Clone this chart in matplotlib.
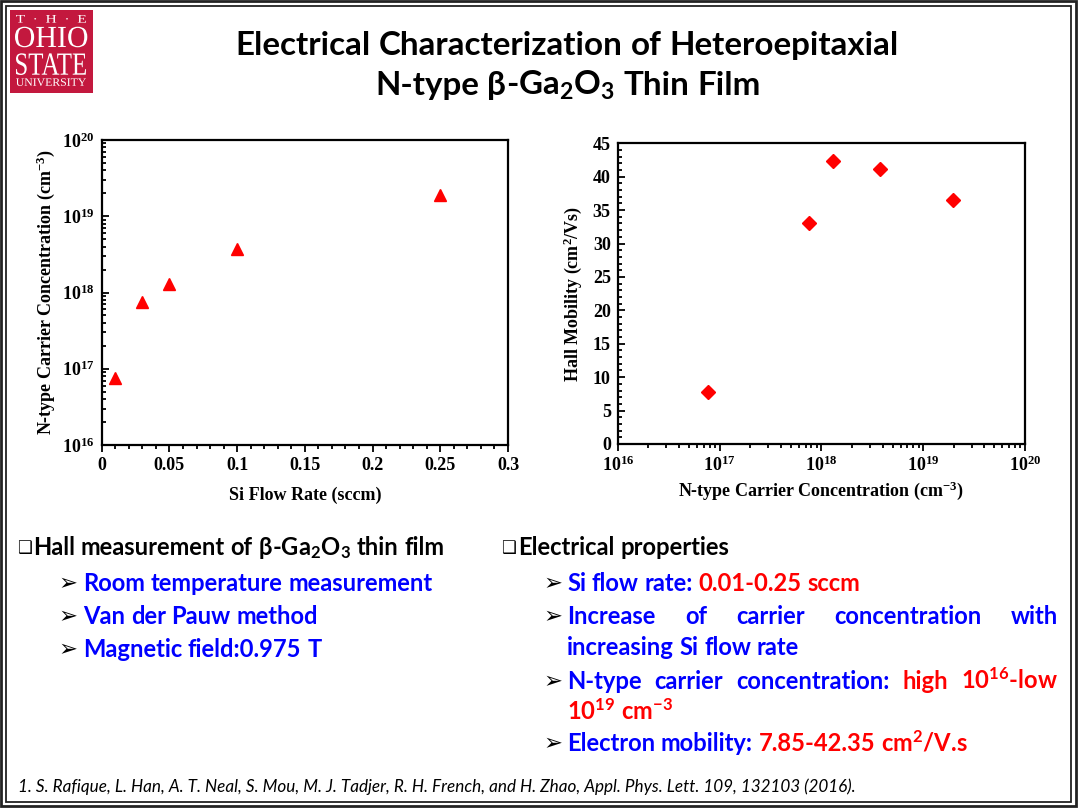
import os
import numpy as np
import matplotlib
matplotlib.use('Agg')
import matplotlib.pyplot as plt
import matplotlib.patheffects as pe
from matplotlib import font_manager
from matplotlib.patches import Rectangle, PathPatch
from matplotlib.textpath import TextPath
from matplotlib.font_manager import FontProperties
from matplotlib.transforms import Affine2D
from matplotlib.text import Text
from matplotlib.ticker import MultipleLocator, LogLocator, FuncFormatter, NullFormatter

# data
si_flow = [0.01, 0.03, 0.05, 0.1, 0.25]
carrier_conc = [7.5e16, 7.4e17, 1.29e18, 3.7e18, 1.88e19]
hall_conc = [7.65e16, 7.5e17, 1.31e18, 3.8e18, 1.95e19]
hall_mobility = [7.85, 33.0, 42.35, 41.1, 36.5]

flow_ticks = [0, 0.05, 0.1, 0.15, 0.2, 0.25, 0.3]
flow_labels = ['0', '0.05', '0.1', '0.15', '0.2', '0.25', '0.3']
mobility_ticks = [0, 5, 10, 15, 20, 25, 30, 35, 40, 45]

RED = '#FF0000'
BLUE = '#0000FF'
BLACK = '#000000'
SANS = ['Lato', 'DejaVu Sans']
SERIF = 'Liberation Serif'

plt.rcParams['font.family'] = SERIF
plt.rcParams['font.weight'] = 'bold'
plt.rcParams['mathtext.default'] = 'regular'

# is there a real bold Times-like face? if not, thicken the chart text with a stroke
bold_file = os.path.basename(font_manager.findfont(FontProperties(family=SERIF, weight='bold'))).lower()
fake_bold = 'bold' not in bold_file

fig = plt.figure(figsize=(10.8, 8.1), dpi=100)
ax0 = fig.add_axes([0, 0, 1, 1])
ax0.set_xlim(0, 1080)
ax0.set_ylim(810, 0)
ax0.axis('off')
R = fig.canvas.get_renderer()

# slide frame
ax0.add_patch(Rectangle((1.2, 1.2), 1074.5, 805, fill=False, lw=2.0, ec='#222222'))
ax0.add_patch(Rectangle((5.7, 5.7), 1065, 796.6, fill=False, lw=1.3, ec='#222222'))

# logo
ax0.add_patch(Rectangle((10, 10), 82.7, 83.3, fc='#C3183E', ec='none'))


def logo_text(s, x0, x1, ytop, ybot):
    tp = TextPath((0, 0), s, size=10, prop=FontProperties(family=SERIF, weight='normal'))
    b = tp.get_extents()
    tr = Affine2D().translate(-b.x0, -b.y0).scale((x1 - x0) / b.width, -(ybot - ytop) / b.height).translate(x0, ybot)
    ax0.add_patch(PathPatch(tr.transform_path(tp), fc='white', ec='none'))


logo_text('T  \u00b7  H  \u00b7  E', 16, 86, 15, 22.7)
logo_text('OHIO', 15, 87.3, 26.7, 47.3)
logo_text('STATE', 16, 86, 53.3, 75)
logo_text('UNIVERSITY', 16, 86, 78.3, 86)


def width_of(s, size, **kw):
    t = ax0.text(0, 0, s, fontsize=size, **kw)
    w = t.get_window_extent(R).width
    t.remove()
    return w


def split_words(pieces):
    words = [[]]
    for s, c in pieces:
        parts = s.split(' ')
        for i, p in enumerate(parts):
            if i > 0:
                words.append([])
            if p:
                words[-1].append((p, c))
    return [w for w in words if w]


def draw_line(x, y, pieces, size, right=None, center=None, **kw):
    kw.setdefault('family', SANS)
    kw.setdefault('fontweight', 'bold')
    arts = []
    for word in split_words(pieces):
        row = []
        for s, c in word:
            t = ax0.text(0, y, s, color=c, fontsize=size, va='baseline', **kw)
            row.append((t, t.get_window_extent(R).width))
        arts.append(row)
    wsum = sum(w for row in arts for _, w in row)
    gap = width_of('x x', size, **kw) - width_of('xx', size, **kw)
    if right is not None and len(arts) > 1:
        gap = (right - x - wsum) / (len(arts) - 1)
    if center is not None:
        x = center - (wsum + gap * (len(arts) - 1)) / 2
    cx = x
    for row in arts:
        for t, w in row:
            t.set_x(cx)
            cx += w
        cx += gap


# title
title_size = 20 * 663 / width_of('Electrical Characterization of Heteroepitaxial', 20,
                                 family=SANS, fontweight='bold')
draw_line(0, 55, [('Electrical Characterization of Heteroepitaxial', BLACK)], title_size, center=567)
draw_line(0, 95, [('N-type ', BLACK), ('\u03b2', BLACK), ('-Ga$_2$O$_3$ Thin Film', BLACK)],
          title_size, center=568)

# body text
body = 15 * 353 / width_of('Room temperature measurement', 15, family=SANS, fontweight='bold')


def box(x, y):
    ax0.text(x, y, '\u2751', fontsize=body * 0.7, family='DejaVu Sans', fontweight='bold',
             va='baseline', color=BLACK)


def arrow(x, y):
    ax0.text(x, y, '\u27a2', fontsize=body * 0.95, family='DejaVu Sans', fontweight='bold',
             va='baseline', color=BLACK)


box(17, 553)
draw_line(33, 555, [('Hall measurement of ', BLACK), ('\u03b2', BLACK), ('-Ga$_2$O$_3$ thin film', BLACK)], body)
for yy, txt in [(591, 'Room temperature measurement'), (624, 'Van der Pauw method'),
                (657, 'Magnetic field:0.975 T')]:
    arrow(58, yy - 1)
    draw_line(83, yy, [(txt, BLUE)], body)

box(501, 553)
draw_line(518, 555, [('Electrical properties', BLACK)], body)
arrow(543, 590)
draw_line(567, 591, [('Si flow rate: ', BLUE), ('0.01-0.25 sccm', RED)], body)
arrow(543, 623)
draw_line(567, 624, [('Increase of carrier concentration with', BLUE)], body, right=1058)
draw_line(567, 655, [('increasing Si flow rate', BLUE)], body)
arrow(543, 688)
draw_line(567, 689, [('N-type carrier concentration: ', BLUE), ('high 10$^{16}$-low', RED)], body, right=1058)
draw_line(567, 720, [('10$^{19}$ cm$^{-3}$', RED)], body)
arrow(543, 750)
draw_line(567, 751, [('Electron mobility: ', BLUE), ('7.85-42.35 cm$^2$/V.s', RED)], body)

# footnote
ref = ('1. S. Rafique, L. Han, A. T. Neal, S. Mou, M. J. Tadjer, R. H. French, and H. Zhao, '
       'Appl. Phys. Lett. 109, 132103 (2016).')
ref_size = 10 * 837 / width_of(ref, 10, family=SANS, fontweight='normal', style='italic')
ax0.text(18, 792, ref, fontsize=ref_size, family=SANS, fontweight='normal', style='italic',
         va='baseline', color=BLACK)


def style_chart(ax):
    for s in ax.spines.values():
        s.set_linewidth(1.6)
    ax.tick_params(which='both', top=False, right=False, width=1.3, labelsize=13, colors=BLACK)
    ax.tick_params(axis='x', which='both', direction='out')
    ax.tick_params(axis='y', which='both', direction='in', pad=5)
    ax.tick_params(which='major', length=5)
    ax.tick_params(which='minor', length=3)


decade = FuncFormatter(lambda v, p: '$10^{%d}$' % round(np.log10(v)))

# left chart: carrier concentration vs Si flow
axL = fig.add_axes([101.7 / 1080, 1 - 445 / 810, 406.3 / 1080, 305 / 810])
axL.plot(si_flow, carrier_conc, ls='none', marker='^', ms=9, color=RED, clip_on=False)
axL.set_yscale('log')
axL.set_ylim(1e16, 1e20)
axL.set_xlim(0, 0.3)
axL.set_xticks(flow_ticks)
axL.set_xticklabels(flow_labels)
axL.xaxis.set_minor_locator(MultipleLocator(0.01))
axL.yaxis.set_major_locator(LogLocator(base=10, numticks=10))
axL.yaxis.set_major_formatter(decade)
axL.yaxis.set_minor_locator(LogLocator(base=10, subs=np.arange(2, 10), numticks=20))
axL.yaxis.set_minor_formatter(NullFormatter())
style_chart(axL)
axL.set_xlabel('Si Flow Rate (sccm)', fontsize=13, fontweight='bold', labelpad=9)
axL.set_ylabel('N-type Carrier Concentration (cm$^{-3}$)', fontsize=13, fontweight='bold', labelpad=4)

# right chart: Hall mobility vs carrier concentration
axR = fig.add_axes([617.7 / 1080, 1 - 444 / 810, 407.3 / 1080, 300.7 / 810])
axR.plot(hall_conc, hall_mobility, ls='none', marker='D', ms=7, color=RED, clip_on=False)
axR.set_xscale('log')
axR.set_xlim(1e16, 1e20)
axR.set_ylim(0, 45)
axR.set_yticks(mobility_ticks)
axR.yaxis.set_minor_locator(MultipleLocator(1))
axR.xaxis.set_major_locator(LogLocator(base=10, numticks=10))
axR.xaxis.set_major_formatter(decade)
axR.xaxis.set_minor_locator(LogLocator(base=10, subs=np.arange(2, 10), numticks=20))
axR.xaxis.set_minor_formatter(NullFormatter())
style_chart(axR)
axR.set_xlabel('N-type Carrier Concentration (cm$^{-3}$)', fontsize=13, fontweight='bold', labelpad=3)
axR.set_ylabel('Hall Mobility (cm$^2$/Vs)', fontsize=13, fontweight='bold', labelpad=6)

fig.canvas.draw()
for ax in (axL, axR):
    for t in ax.findobj(Text):
        t.set_fontweight('bold')
        if fake_bold:
            t.set_path_effects([pe.withStroke(linewidth=0.8, foreground=BLACK)])

fig.savefig('out.png', dpi=100, facecolor='white')
